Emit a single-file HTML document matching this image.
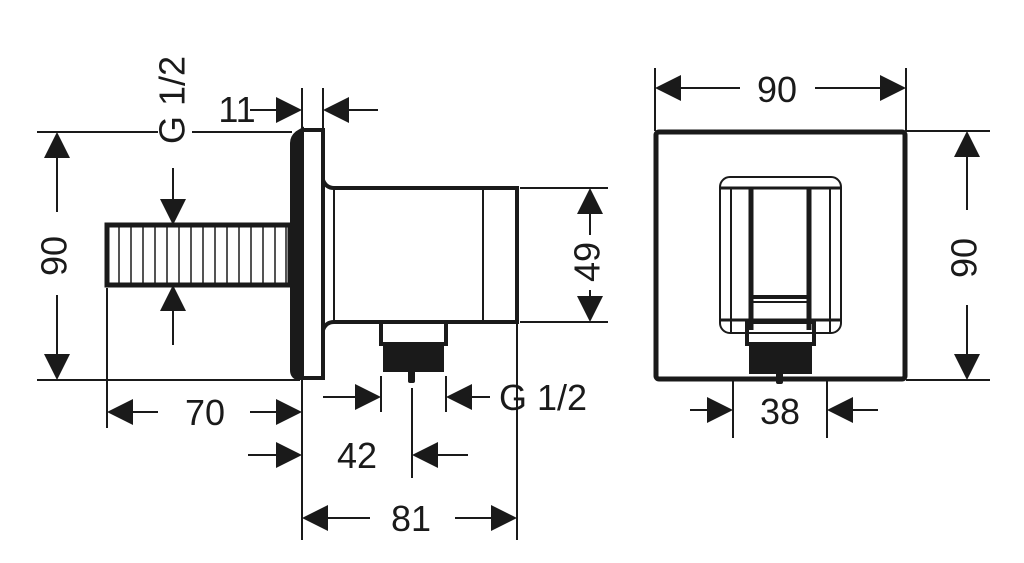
<!DOCTYPE html>
<html><head><meta charset="utf-8"><style>
html,body{margin:0;padding:0;background:#fff;}
svg{display:block}
text{font-family:"Liberation Sans",sans-serif;font-size:36px;fill:#1a1a1a;}
</style></head><body>
<svg width="1024" height="563" viewBox="0 0 1024 563" xmlns="http://www.w3.org/2000/svg">
<g stroke="#1a1a1a" fill="none" stroke-width="2">
<line x1="37" y1="132" x2="158" y2="132"/>
<line x1="192" y1="132" x2="292" y2="132"/>
<line x1="37" y1="380" x2="300" y2="380"/>
<line x1="57" y1="150" x2="57" y2="212"/>
<line x1="57" y1="295" x2="57" y2="362"/>
<line x1="173" y1="168" x2="173" y2="200"/>
<line x1="173" y1="305" x2="173" y2="345"/>
<line x1="302" y1="88" x2="302" y2="130"/>
<line x1="323" y1="88" x2="323" y2="130"/>
<line x1="250" y1="110" x2="280" y2="110"/>
<line x1="345" y1="110" x2="378" y2="110"/>
<rect x="107" y="225" width="183" height="60" stroke-width="5"/>
</g>
<g stroke="#1a1a1a" stroke-width="1.5">
<line x1="119" y1="227" x2="119" y2="283"/><line x1="131" y1="227" x2="131" y2="283"/><line x1="143" y1="227" x2="143" y2="283"/><line x1="155" y1="227" x2="155" y2="283"/><line x1="167" y1="227" x2="167" y2="283"/><line x1="179" y1="227" x2="179" y2="283"/><line x1="191" y1="227" x2="191" y2="283"/><line x1="203" y1="227" x2="203" y2="283"/><line x1="215" y1="227" x2="215" y2="283"/><line x1="227" y1="227" x2="227" y2="283"/><line x1="239" y1="227" x2="239" y2="283"/><line x1="251" y1="227" x2="251" y2="283"/><line x1="263" y1="227" x2="263" y2="283"/><line x1="275" y1="227" x2="275" y2="283"/><line x1="286" y1="227" x2="286" y2="283"/>
</g>
<g stroke="#1a1a1a" fill="none">
<path d="M302 130 L323 130 L323 378 L302 378" stroke-width="4"/>
<path d="M302 130 L297 133 Q292 137 292 143 L292 370 Q292 376 297 378 L302 378 Z" stroke-width="4" fill="#1a1a1a"/>
<path d="M323 180 Q326 188 334 188 L517 188 L517 322 L334 322 Q326 322 323 330" stroke-width="4"/>
<line x1="334" y1="188" x2="334" y2="322" stroke-width="2"/>
<line x1="483" y1="188" x2="483" y2="322" stroke-width="2"/>
<rect x="381" y="322" width="65" height="22" stroke-width="4"/>
</g>
<rect x="383" y="342" width="61" height="30" fill="#1a1a1a"/>
<rect x="408" y="370" width="7" height="13" rx="2" fill="#1a1a1a"/>
<g stroke="#1a1a1a" fill="none" stroke-width="2">
<line x1="381" y1="376" x2="381" y2="412"/>
<line x1="446" y1="376" x2="446" y2="412"/>
<line x1="323" y1="397" x2="355" y2="397"/>
<line x1="470" y1="397" x2="490" y2="397"/>
<line x1="107" y1="288" x2="107" y2="428"/>
<line x1="302" y1="380" x2="302" y2="540"/>
<line x1="130" y1="412" x2="158" y2="412"/>
<line x1="250" y1="412" x2="280" y2="412"/>
<line x1="248" y1="455" x2="280" y2="455"/>
<line x1="412" y1="388" x2="412" y2="478"/>
<line x1="435" y1="455" x2="468" y2="455"/>
<line x1="517" y1="324" x2="517" y2="540"/>
<line x1="325" y1="518" x2="370" y2="518"/>
<line x1="455" y1="518" x2="495" y2="518"/>
<line x1="520" y1="188" x2="608" y2="188"/>
<line x1="520" y1="322" x2="608" y2="322"/>
<line x1="590" y1="210" x2="590" y2="235"/>
<line x1="590" y1="290" x2="590" y2="300"/>
</g>
<g fill="#1a1a1a">
<polygon points="57,132 44,158 70,158"/>
<polygon points="57,380 44,354 70,354"/>
<polygon points="173,225 160,199 186,199"/>
<polygon points="173,285 160,311 186,311"/>
<polygon points="302,110 276,97 276,123"/>
<polygon points="323,110 349,97 349,123"/>
<polygon points="381,397 355,384 355,410"/>
<polygon points="446,397 472,384 472,410"/>
<polygon points="107,412 133,399 133,425"/>
<polygon points="302,412 276,399 276,425"/>
<polygon points="302,455 276,442 276,468"/>
<polygon points="412,455 438,442 438,468"/>
<polygon points="302,518 328,505 328,531"/>
<polygon points="517,518 491,505 491,531"/>
<polygon points="590,188 577,214 603,214"/>
<polygon points="590,322 577,296 603,296"/>
</g>
<text x="57" y="256" text-anchor="middle" dominant-baseline="middle" transform="rotate(-90 57 256)">90</text>
<text x="175" y="100" text-anchor="middle" dominant-baseline="middle" transform="rotate(-90 175 100)">G 1/2</text>
<text x="237" y="122" text-anchor="middle">11</text>
<text x="499" y="410">G 1/2</text>
<text x="205" y="425" text-anchor="middle">70</text>
<text x="357" y="468" text-anchor="middle">42</text>
<text x="411" y="531" text-anchor="middle">81</text>
<text x="590" y="262" text-anchor="middle" dominant-baseline="middle" transform="rotate(-90 590 262)">49</text>

<g stroke="#1a1a1a" fill="none" stroke-width="2">
<line x1="655" y1="68" x2="655" y2="131"/>
<line x1="906" y1="68" x2="906" y2="131"/>
<line x1="680" y1="88" x2="740" y2="88"/>
<line x1="815" y1="88" x2="880" y2="88"/>
<line x1="906" y1="131" x2="990" y2="131"/>
<line x1="906" y1="380" x2="990" y2="380"/>
<line x1="967" y1="150" x2="967" y2="210"/>
<line x1="967" y1="305" x2="967" y2="360"/>
<rect x="656" y="132" width="249" height="247" stroke-width="5" rx="3"/>
<rect x="720" y="177" width="121" height="156" rx="10"/>
<line x1="731" y1="188" x2="731" y2="333"/>
<line x1="830" y1="188" x2="830" y2="333"/>
<line x1="720" y1="188" x2="841" y2="188" stroke-width="3"/>
<line x1="720" y1="320" x2="841" y2="320" stroke-width="3"/>
<line x1="751" y1="188" x2="751" y2="330" stroke-width="5"/>
<line x1="809" y1="188" x2="809" y2="330" stroke-width="5"/>
<line x1="751" y1="297" x2="809" y2="297" stroke-width="4"/>
<line x1="751" y1="302" x2="809" y2="302"/>
<rect x="747" y="322" width="67" height="22" stroke-width="4"/>
<line x1="733" y1="380" x2="733" y2="438"/>
<line x1="827" y1="380" x2="827" y2="438"/>
<line x1="690" y1="410" x2="710" y2="410"/>
<line x1="850" y1="410" x2="878" y2="410"/>
</g>
<rect x="749" y="342" width="63" height="32" fill="#1a1a1a"/>
<rect x="776" y="370" width="7" height="14" rx="2" fill="#1a1a1a"/>
<g fill="#1a1a1a">
<polygon points="655,88 681,75 681,101"/>
<polygon points="906,88 880,75 880,101"/>
<polygon points="967,131 954,157 980,157"/>
<polygon points="967,380 954,354 980,354"/>
<polygon points="733,410 707,397 707,423"/>
<polygon points="827,410 853,397 853,423"/>
</g>
<text x="777" y="102" text-anchor="middle">90</text>
<text x="967" y="258" text-anchor="middle" dominant-baseline="middle" transform="rotate(-90 967 258)">90</text>
<text x="780" y="424" text-anchor="middle">38</text>
</svg>
</body></html>
